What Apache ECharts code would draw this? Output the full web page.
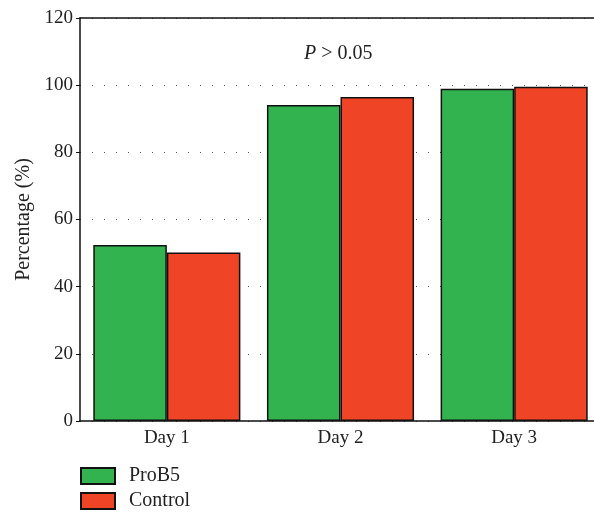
<!DOCTYPE html>
<html>
<head>
<meta charset="utf-8">
<script src="https://cdn.jsdelivr.net/npm/echarts@6/dist/echarts.min.js"></script>
<style>
  html, body { margin: 0; padding: 0; background: #fff; overflow: hidden; }
  /* canvas is a bit wider than the window: the plot runs off the right edge */
  #chart { width: 603px; height: 513px; }
</style>
</head>
<body>
<div id="chart"></div>
<script>
// Percentage per day for each group
const categories = ['Day 1', 'Day 2', 'Day 3'];
const prob5 = [52.4, 94.1, 98.9];
const control = [50.2, 96.5, 99.5];
const yTicks = [0, 20, 40, 60, 80, 100, 120];
const seriesNames = ['ProB5', 'Control'];

const FONT = '"Liberation Serif", "DejaVu Serif", serif';
const chart = echarts.init(document.getElementById('chart'));

// one legend block per series, stacked below the plot
const legendBlock = (name, top) => ({
  left: 80,
  top: top,
  padding: 0,
  icon: 'rect',
  itemWidth: 34,
  itemHeight: 16,
  itemGap: 0,
  textStyle: { fontFamily: FONT, fontSize: 20, color: '#222', padding: [0, 0, 0, 9] },
  data: [name]
});

chart.setOption({
  animation: false,
  textStyle: { fontFamily: FONT },
  grid: { left: 80, right: 2, top: 18, bottom: 92, containLabel: false },
  legend: [legendBlock(seriesNames[0], 466), legendBlock(seriesNames[1], 491)],
  xAxis: [{
    type: 'category',
    data: categories,
    axisLine: { lineStyle: { color: '#111', width: 1.5 } },
    axisTick: { show: false },
    axisLabel: { fontFamily: FONT, fontSize: 19, color: '#222', margin: 8 }
  }, {
    type: 'category',
    position: 'top',
    data: categories,
    axisLine: { lineStyle: { color: '#111', width: 1.5 } },
    axisTick: { show: false },
    axisLabel: { show: false },
    splitLine: { show: false }
  }],
  yAxis: {
    type: 'value',
    min: yTicks[0],
    max: yTicks[yTicks.length - 1],
    interval: 20,
    name: 'Percentage (%)',
    nameLocation: 'middle',
    nameGap: 45,
    nameTextStyle: { fontFamily: FONT, fontSize: 20, color: '#222' },
    axisLine: { show: true, lineStyle: { color: '#111', width: 1.5 } },
    axisTick: { show: true, inside: false, length: 4, lineStyle: { color: '#111' } },
    axisLabel: { fontFamily: FONT, fontSize: 19, color: '#222', margin: 7 },
    splitLine: {
      show: true,
      lineStyle: { color: '#555', width: 1, type: [1, 11], dashOffset: 0 }
    }
  },
  series: [{
    name: seriesNames[0],
    type: 'bar',
    data: prob5,
    barGap: '0%',
    barCategoryGap: '15.3%',
    itemStyle: { color: '#33b34f', borderColor: '#111', borderWidth: 1.5 }
  }, {
    name: seriesNames[1],
    type: 'bar',
    data: control,
    itemStyle: { color: '#ef4526', borderColor: '#111', borderWidth: 1.5 }
  }],
  graphic: [{
    type: 'text',
    left: 304,
    top: 44,
    style: {
      text: '{i|P} > 0.05',
      font: '20px ' + FONT,
      fill: '#222',
      rich: {
        i: { fontStyle: 'italic', fontFamily: FONT, fontSize: 20, fill: '#222' }
      }
    }
  }]
});
</script>
</body>
</html>
